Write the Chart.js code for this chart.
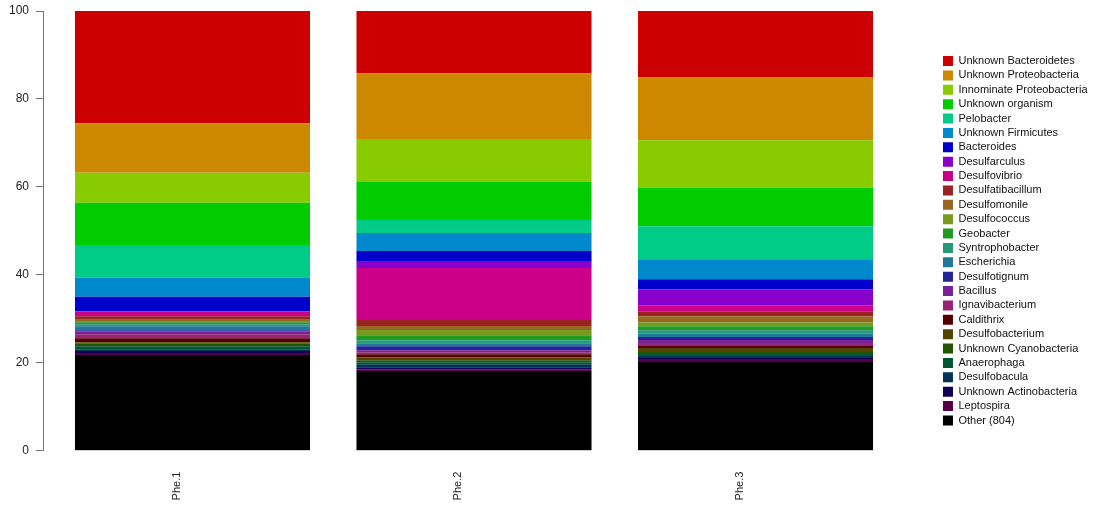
<!DOCTYPE html>
<html><head><meta charset="utf-8">
<script src="https://cdn.jsdelivr.net/npm/chart.js@4.4.1/dist/chart.umd.min.js"></script>
<style>html,body{margin:0;padding:0;background:#fff;} canvas{display:block;}</style>
</head><body>
<canvas id="c" width="1111" height="508"></canvas>
<script>
const categories = ['Phe.1', 'Phe.2', 'Phe.3'];
const taxa = ['Unknown Bacteroidetes','Unknown Proteobacteria','Innominate Proteobacteria','Unknown organism','Pelobacter','Unknown Firmicutes','Bacteroides','Desulfarculus','Desulfovibrio','Desulfatibacillum','Desulfomonile','Desulfococcus','Geobacter','Syntrophobacter','Escherichia','Desulfotignum','Bacillus','Ignavibacterium','Caldithrix','Desulfobacterium','Unknown Cyanobacteria','Anaerophaga','Desulfobacula','Unknown Actinobacteria','Leptospira','Other (804)'];
const taxaColors = ['#CC0000','#CC8800','#88CC00','#00CC00','#00CC88','#0088CC','#0000CC','#8800CC','#CC0088','#992222','#996622','#779922','#229922','#229977','#227799','#222299','#772299','#992277','#550000','#554400','#225500','#005533','#003355','#110055','#550044','#000000'];
const phe1 = [25.51,11.3,6.8,9.6,7.4,4.4,3.2,0.1,1.14,0.75,0.3,0.3,0.45,0.45,0.9,0.23,0.68,0.9,0.9,0.23,0.68,0.68,0.45,0.45,0.45,21.75];
const phe2 = [14.14,15.0,9.77,8.64,2.95,4.1,2.27,1.6,11.8,1.4,0.9,1.2,1.14,0.68,0.68,0.9,0.45,0.45,0.68,0.68,0.45,0.45,0.68,0.45,0.45,18.1];
const phe3 = [15.1,14.3,10.7,8.86,7.5,4.55,2.27,3.64,1.36,1.14,1.36,0.9,0.9,0.75,0.8,0.68,0.68,0.68,0.45,0.9,0.45,0.45,0.45,0.23,0.68,20.2];
const yTicks = [0, 20, 40, 60, 80, 100];

const samples = [phe1, phe2, phe3];
const datasets = taxa.map((name, i) => ({
  label: name,
  backgroundColor: taxaColors[i],
  borderWidth: 0,
  data: samples.map((s, j) => ({x: j, y: s[i]}))
})).reverse();

Chart.defaults.font.family = "'Liberation Sans', Arial, Helvetica, sans-serif";

new Chart(document.getElementById('c'), {
  type: 'bar',
  data: {datasets},
  options: {
    responsive: false,
    animation: false,
    devicePixelRatio: 1,
    layout: {padding: {top: 11, bottom: 0, left: 0, right: 13.5}},
    datasets: {bar: {categoryPercentage: 1, barPercentage: 0.835}},
    scales: {
      x: {
        type: 'linear', stacked: true, offset: false, bounds: 'data',
        afterDataLimits(s) { s.min = -0.5311; s.max = s.min + (s.width || 896.6) / 281.5; },
        afterBuildTicks(s) { s.ticks = categories.map((c, i) => ({value: i})); },
        afterFit(s) { s.height = 57.3; s.paddingLeft = 0; s.paddingRight = 0; },
        grid: {display: false, drawTicks: false},
        border: {display: false},
        ticks: {autoSkip: false, minRotation: 90, maxRotation: 90, padding: 21, labelOffset: -16,
          color: '#222', font: {size: 11}, callback: (v) => categories[v]}
      },
      y: {
        stacked: true, min: 0, max: 100,
        afterBuildTicks(s) { s.ticks = yTicks.map(v => ({value: v})); },
        afterFit(s) { s.width = 43; s.paddingTop = 0; s.paddingBottom = 0; },
        grid: {drawOnChartArea: false, tickLength: 7, color: '#777'},
        border: {color: '#777'},
        ticks: {padding: 7, color: '#222', font: {size: 12}}
      }
    },
    plugins: {
      legend: {position: 'right', align: 'start', reverse: true,
        title: {display: true, text: '', padding: {top: 27.92, bottom: 0}, font: {size: 11}},
        labels: {boxWidth: 10, boxHeight: 10, padding: 3.38, color: '#111', font: {size: 11}}},
      tooltip: {enabled: false}
    }
  }
});
</script>
</body></html>
